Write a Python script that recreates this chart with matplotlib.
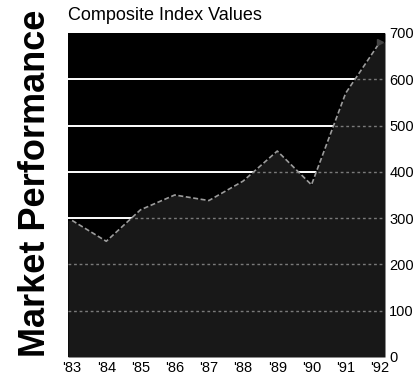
import numpy as np
import matplotlib.pyplot as plt

# composite index, year-end values
years = [83, 84, 85, 86, 87, 88, 89, 90, 91, 92]
values = [295, 250, 318, 350, 338, 380, 445, 372, 570, 680]
year_labels = ["'83", "'84", "'85", "'86", "'87", "'88", "'89", "'90", "'91", "'92"]
grid_levels = [100, 200, 300, 400, 500, 600]
y_ticks = [0, 100, 200, 300, 400, 500, 600, 700]

sans = ['Liberation Sans', 'DejaVu Sans']
x0, x1 = 82.88, 92.15

fig = plt.figure(figsize=(4.19, 3.81), dpi=100)
ax = fig.add_axes([68 / 419, 1 - 357 / 381, 317 / 419, 324 / 381])
ax.set_xlim(x0, x1)
ax.set_ylim(0, 700)
ax.set_facecolor('black')
for s in ax.spines.values():
    s.set_visible(False)

# carry the ends of the series flat out to the frame edges for the shading
xs = [x0] + years + [x1]
ys = [values[0]] + values + [values[-1]]

# black field above the line, dark halftone below it
upper = ax.fill_between(xs, ys, 700, color='black', lw=0, zorder=1)
lower = ax.fill_between(xs, 0, ys, color='#181818', lw=0, zorder=1)

# gridlines: solid white over the black part, faint dotted under the line
for g in grid_levels:
    l1, = ax.plot([x0, x1], [g, g], color='white', lw=1.4, zorder=2)
    l1.set_clip_path(upper.get_paths()[0], transform=ax.transData)
    l2, = ax.plot([x0, x1], [g, g], color='#7a7a7a', lw=1.0,
                  ls=(0, (2, 2)), zorder=2)
    l2.set_clip_path(lower.get_paths()[0], transform=ax.transData)

ax.plot(years, values, color='#9c9c9c', lw=1.2, ls=(0, (3, 1.5)), zorder=3)
ax.plot(years[-1], values[-1], marker='>', ms=4, color='#444444',
        clip_on=False, zorder=4)

ax.set_xticks(years)
ax.set_xticklabels(year_labels, family=sans, fontsize=10.5)
ax.set_yticks(y_ticks)
ax.set_yticklabels([str(v) for v in y_ticks], family=sans, fontsize=10.5)
ax.yaxis.tick_right()
ax.tick_params(length=0, pad=3)

fig.text(68 / 419, 1 - 20 / 381, 'Composite Index Values', family=sans,
         fontsize=13, va='baseline', ha='left')
fig.text(18 / 419, 1 - 183 / 381, 'Market Performance', family=sans,
         fontweight='bold', fontsize=26, rotation=90, va='center', ha='left')

fig.savefig('out.png', dpi=100, facecolor='white')
